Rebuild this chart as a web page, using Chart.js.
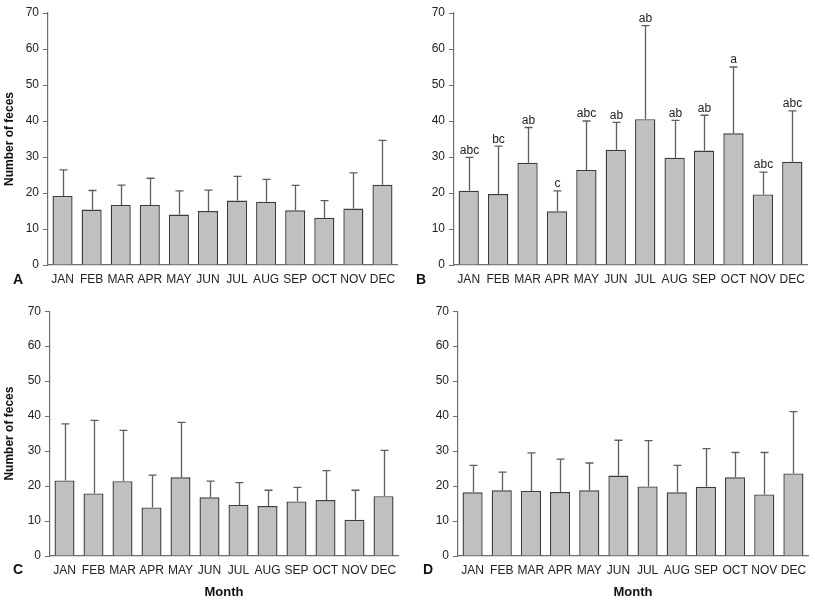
<!DOCTYPE html>
<html><head><meta charset="utf-8">
<script src="https://cdn.jsdelivr.net/npm/chart.js@4"></script>
<style>
body{margin:0;background:#fff;width:815px;height:600px;position:relative;overflow:hidden}
canvas{position:absolute}
</style></head><body>
<canvas id="cA" width="408" height="300" style="left:0;top:0"></canvas>
<canvas id="cB" width="407" height="300" style="left:408px;top:0"></canvas>
<canvas id="cC" width="408" height="300" style="left:0;top:300px"></canvas>
<canvas id="cD" width="407" height="300" style="left:408px;top:300px"></canvas>
<script>
const months = ['JAN','FEB','MAR','APR','MAY','JUN','JUL','AUG','SEP','OCT','NOV','DEC'];
const yTicks = [0,10,20,30,40,50,60,70];

const meanA = [19.2,15.4,16.7,16.7,14.0,15.0,17.9,17.6,15.2,13.1,15.7,22.3];
const sdA   = [7.2,5.3,5.5,7.4,6.6,5.8,6.7,6.2,6.9,4.8,9.9,12.3];

const meanB = [20.6,19.7,28.4,14.9,26.4,32.0,40.5,29.8,31.8,36.6,19.6,28.7];
const sdB   = [9.3,13.3,9.8,5.7,13.6,7.6,26.0,10.4,9.8,18.4,6.2,14.1];
const lettersB = ['abc','bc','ab','c','abc','ab','ab','ab','ab','a','abc','abc'];

const meanC = [21.6,17.9,21.4,13.9,22.5,16.8,14.6,14.3,15.6,16.0,10.4,17.1];
const sdC   = [16.2,20.9,14.5,9.2,15.7,4.6,6.4,4.5,4.0,8.4,8.4,13.1];

const meanD = [18.2,18.8,18.6,18.3,18.8,23.0,19.9,18.2,19.8,22.5,17.6,23.6];
const sdD   = [7.7,5.2,10.9,9.4,7.8,10.1,13.1,7.7,10.9,7.1,12.0,17.7];

const FONT = "'Liberation Sans', Arial, sans-serif";
const AXIS = '#6e6e6e';

function makePanel(id, cfg) {
  const errPlugin = {
    id: 'err' + id,
    afterDatasetsDraw(chart) {
      const ctx = chart.ctx;
      const meta = chart.getDatasetMeta(0);
      const ys = chart.scales.y;
      ctx.save();
      ctx.strokeStyle = '#5e5e5e';
      ctx.lineWidth = 1.3;
      meta.data.forEach((bar, i) => {
        const x = Math.round(bar.x) + 0.5;
        const yb = bar.y;
        const yt = ys.getPixelForValue(cfg.mean[i] + cfg.sd[i]);
        ctx.beginPath();
        ctx.moveTo(x, yb);
        ctx.lineTo(x, yt);
        ctx.moveTo(x - 4, yt);
        ctx.lineTo(x + 4, yt);
        ctx.stroke();
        if (cfg.letters) {
          ctx.fillStyle = '#222';
          ctx.font = '12px ' + FONT;
          ctx.textAlign = 'center';
          ctx.textBaseline = 'bottom';
          ctx.fillText(cfg.letters[i], x, yt - 1);
        }
      });
      ctx.restore();
    },
    afterDraw(chart) {
      const ctx = chart.ctx;
      ctx.save();
      ctx.fillStyle = '#111';
      ctx.font = 'bold 14px ' + FONT;
      ctx.textAlign = 'center';
      ctx.textBaseline = 'middle';
      ctx.fillText(cfg.panel, cfg.px, cfg.py);
      ctx.restore();
    }
  };
  new Chart(document.getElementById(id), {
    type: 'bar',
    data: {
      labels: months,
      datasets: [{
        data: cfg.mean,
        backgroundColor: '#c0c0c0',
        borderColor: '#3c3c3c',
        borderWidth: 1.4,
        borderSkipped: 'bottom',
        categoryPercentage: 1,
        barPercentage: 0.69
      }]
    },
    options: {
      responsive: false,
      animation: false,
      devicePixelRatio: 1,
      layout: { padding: { top: cfg.top, right: cfg.right, left: 0, bottom: 0 } },
      plugins: { legend: { display: false }, tooltip: { enabled: false } },
      scales: {
        x: {
          grid: { display: false, drawTicks: false },
          border: { display: true, color: AXIS, width: 1.2 },
          ticks: { color: '#222', font: { family: FONT, size: 12 }, padding: 7, maxRotation: 0, autoSkip: false },
          title: { display: cfg.xTitle, text: 'Month', color: '#111', font: { family: FONT, size: 13, weight: 'bold' }, padding: { top: 0, bottom: 0 } },
          afterFit(s) { s.height = cfg.xh; }
        },
        y: {
          min: 0, max: 70,
          afterBuildTicks(s) { s.ticks = yTicks.map(v => ({ value: v })); },
          grid: { display: true, drawOnChartArea: false, tickLength: 5, color: AXIS },
          border: { display: true, color: AXIS, width: 1.2 },
          ticks: { color: '#222', font: { family: FONT, size: 12 }, padding: 4 },
          title: { display: cfg.yTitle, text: 'Number of feces', color: '#111', font: { family: FONT, size: 12, weight: 'bold' }, padding: { top: 2, bottom: 0 } },
          afterFit(s) { s.width = cfg.yw; }
        }
      }
    },
    plugins: [errPlugin]
  });
}

makePanel('cA', { mean: meanA, sd: sdA, panel: 'A', px: 18, py: 280, top: 13, right: 11, xh: 35, yw: 48, yTitle: true, xTitle: false });
makePanel('cB', { mean: meanB, sd: sdB, letters: lettersB, panel: 'B', px: 13, py: 280, top: 13, right: 8, xh: 35, yw: 46, yTitle: false, xTitle: false });
makePanel('cC', { mean: meanC, sd: sdC, panel: 'C', px: 18, py: 270, top: 5, right: 10, xh: 44, yw: 50, yTitle: true, xTitle: true });
makePanel('cD', { mean: meanD, sd: sdD, panel: 'D', px: 20, py: 270, top: 5, right: 7, xh: 44, yw: 50, yTitle: false, xTitle: true });
</script>
</body></html>
